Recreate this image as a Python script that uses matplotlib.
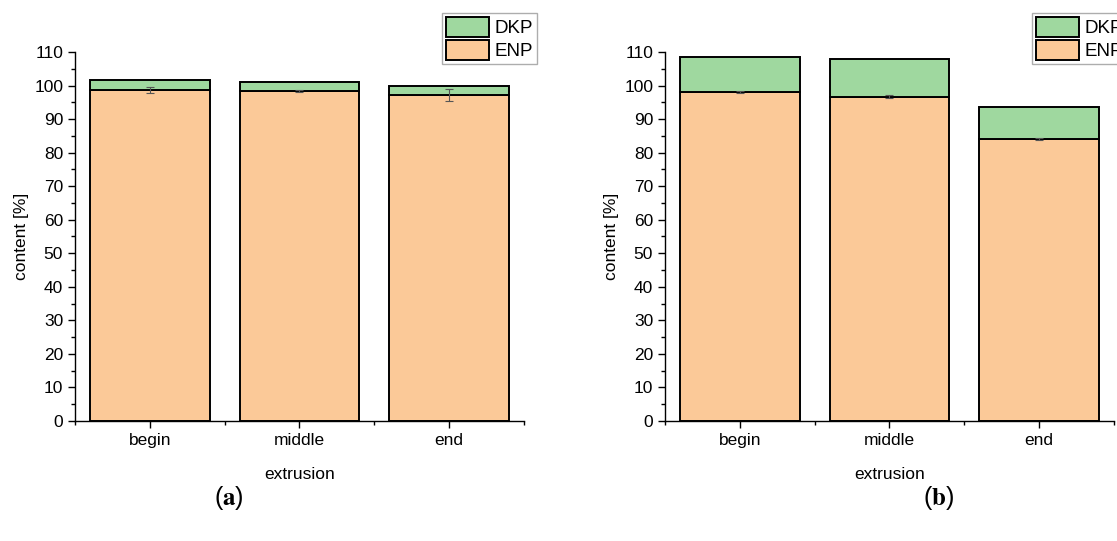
import numpy as np
import matplotlib.pyplot as plt
from matplotlib.ticker import MultipleLocator

plt.rcParams['font.family'] = ['Liberation Sans', 'DejaVu Sans']
plt.rcParams['mathtext.fontset'] = 'stix'

positions = ['begin', 'middle', 'end']

# panel (a)
enp_a = [98.7, 98.4, 97.2]
dkp_a = [2.9, 2.8, 2.7]
err_a = [1.0, 0.2, 1.7]

# panel (b)
enp_b = [98.1, 96.7, 84.1]
dkp_b = [10.4, 11.2, 9.4]
err_b = [0.4, 0.4, 0.4]

green = '#9fd89f'
orange = '#fbc998'


def draw_panel(ax, enp, dkp, err):
    x = np.arange(1, len(positions) + 1)
    b1 = ax.bar(x, enp, width=0.8, color=orange, edgecolor='black', linewidth=1.4, label='ENP', zorder=2)
    b2 = ax.bar(x, dkp, width=0.8, bottom=enp, color=green, edgecolor='black', linewidth=1.4, label='DKP', zorder=2)
    ax.errorbar(x, enp, yerr=err, fmt='none', ecolor='#555555', elinewidth=0.8, capsize=3, capthick=0.8, zorder=3)
    ax.set_xlim(0.5, 3.5)
    ax.set_ylim(0, 110)
    ax.set_xticks(x)
    ax.set_xticklabels(positions)
    ax.xaxis.set_minor_locator(MultipleLocator(0.5))
    ax.yaxis.set_major_locator(MultipleLocator(10))
    ax.yaxis.set_minor_locator(MultipleLocator(5))
    ax.tick_params(which='major', direction='out', length=5, width=1, labelsize=12.5)
    ax.tick_params(which='minor', direction='out', length=3, width=1)
    ax.spines['top'].set_visible(False)
    ax.spines['right'].set_visible(False)
    ax.spines['left'].set_linewidth(1)
    ax.spines['bottom'].set_linewidth(1)
    ax.set_xlabel('extrusion', fontsize=12.5, labelpad=14)
    ax.set_ylabel('content [%]', fontsize=12.5, labelpad=4)
    leg = ax.legend(handles=[b2, b1], labels=['DKP', 'ENP'], loc='lower right',
                    bbox_to_anchor=(1.029, 0.967), fontsize=13.5, frameon=True, fancybox=False,
                    edgecolor='#999999', handlelength=2.3, handleheight=1.3,
                    borderpad=0.2, labelspacing=0.15, handletextpad=0.3, borderaxespad=0)
    leg.get_frame().set_linewidth(1)


fig = plt.figure(figsize=(11.17, 5.41), dpi=100)
ax1 = fig.add_axes([0.0671, 0.2218, 0.402, 0.6821])
ax2 = fig.add_axes([0.5953, 0.2218, 0.402, 0.6821])
draw_panel(ax1, enp_a, dkp_a, err_a)
draw_panel(ax2, enp_b, dkp_b, err_b)

fig.text(0.205, 0.08, r'($\mathbf{a}$)', ha='center', va='center', fontsize=18)
fig.text(0.840, 0.08, r'($\mathbf{b}$)', ha='center', va='center', fontsize=18)

fig.savefig('out.png', dpi=100)
